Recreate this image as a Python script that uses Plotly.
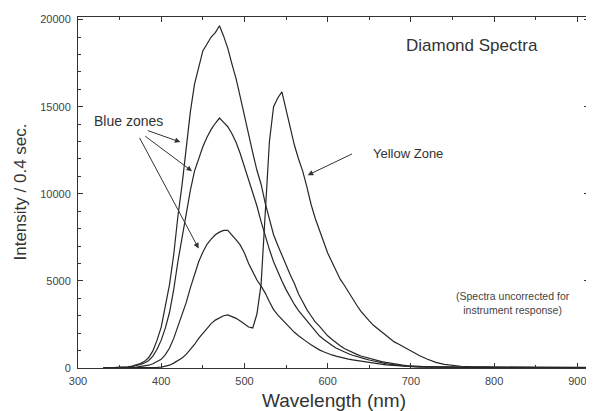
import plotly.graph_objects as go

# Wavelength sample grid (nm)
wavelength = list(range(330, 705, 5)) + list(range(710, 915, 10))

# Blue zone 1 (strongest)
blue_zone_1 = [0, 10, 15, 25, 30, 50, 70, 110, 160, 250, 380, 600, 980, 1600, 2350,
               3500, 4800, 6500, 8700, 10500, 12700, 14700, 16300, 17300, 18200, 18600,
               19000, 19250, 19650, 19050, 18350, 17450, 16600, 15550, 14450, 13250,
               12350, 11350, 10550, 9450, 8550, 7650, 7050, 6450, 5950, 5350, 4850, 4250,
               3800, 3350, 3000, 2650, 2400, 2100, 1850, 1650, 1450, 1280, 1120, 1000,
               880, 780, 690, 620, 550, 490, 430, 370, 320, 270, 230, 190, 160, 140, 120,
               90, 70, 60, 50, 45, 40, 40, 35, 40, 35, 30, 35, 30, 30, 35, 30, 30, 25, 30, 25, 30]

# Blue zone 2 (medium)
blue_zone_2 = [0, 5, 10, 15, 25, 35, 55, 85, 130, 200, 290, 430, 680, 1080, 1600,
               2300, 3200, 4500, 6100, 7500, 8700, 10200, 11300, 12050, 12700, 13250,
               13700, 14050, 14350, 14100, 13850, 13450, 12950, 12300, 11550, 10800,
               10100, 9300, 8400, 7550, 6800, 6100, 5500, 5000, 4500, 4050, 3650, 3300,
               3000, 2700, 2400, 2100, 1850, 1650, 1450, 1300, 1150, 1030, 920, 820,
               730, 650, 580, 520, 460, 400, 350, 300, 250, 210, 175, 145, 120, 100, 85,
               70, 55, 45, 40, 40, 35, 35, 30, 35, 30, 30, 30, 25, 30, 30, 25, 30, 25, 25, 30, 25]

# Blue zone 3 (weakest)
blue_zone_3 = [0, 0, 5, 5, 10, 10, 20, 30, 50, 75, 110, 160, 240, 350, 500,
               770, 1150, 1700, 2350, 3000, 3750, 4600, 5400, 6100, 6650, 7100,
               7400, 7650, 7800, 7900, 7900, 7650, 7350, 7050, 6600, 6000,
               5500, 5050, 4700, 4300, 3800, 3350, 3050, 2800, 2500, 2250, 2050, 1850,
               1700, 1500, 1330, 1170, 1040, 930, 830, 750, 680, 610, 560, 510,
               470, 430, 400, 360, 320, 280, 245, 215, 185, 160, 140, 120, 100, 85, 70,
               55, 45, 40, 35, 35, 30, 30, 30, 25, 30, 25, 25, 30, 25, 25, 25, 20, 25, 25, 20, 25]

# Yellow zone
yellow_zone = [0, 0, 0, 5, 5, 5, 10, 10, 10, 15, 15, 20, 25, 35, 55,
               90, 160, 280, 420, 580, 780, 1050, 1350, 1700, 2000, 2300,
               2550, 2750, 2900, 3000, 3050, 2950, 2850, 2700, 2550, 2350,
               2300, 3100, 4800, 9000, 13000, 15000, 15500, 15850, 14800, 13700, 12800, 12000,
               11300, 10400, 9400, 8600, 7900, 7300, 6600, 6100, 5600, 5100, 4750, 4350,
               4000, 3600, 3250, 2950, 2700, 2450, 2250, 2050, 1850, 1650, 1500, 1380, 1250, 1100, 980,
               720, 500, 320, 210, 140, 100, 80, 60, 55, 50, 45, 45, 40, 45, 40, 40, 35, 40, 35, 40, 35]

series = [blue_zone_1, blue_zone_2, blue_zone_3, yellow_zone]

x_ticks = [300, 400, 500, 600, 700, 800, 900]
y_ticks = [0, 5000, 10000, 15000, 20000]

FONT = "Liberation Sans, Arial, Helvetica, sans-serif"
INK = "#262626"

fig = go.Figure()
for s in series:
    fig.add_trace(go.Scatter(x=wavelength, y=s, mode="lines",
                             line=dict(color=INK, width=1.2), showlegend=False,
                             hoverinfo="skip"))

axis_common = dict(showgrid=False, zeroline=False, showline=True, linecolor="#333",
                   linewidth=1, mirror="allticks", ticks="inside", ticklen=5,
                   tickcolor="#333", automargin=False,
                   tickfont=dict(family=FONT, size=11, color="#444"))

fig.update_xaxes(range=[300, 914], tickvals=x_ticks, ticktext=[str(v) for v in x_ticks],
                 minor=dict(dtick=50, tick0=300, ticks="inside", ticklen=3, tickcolor="#333"),
                 ticklabelstandoff=3,
                 **axis_common)
fig.update_yaxes(range=[0, 20150], tickvals=y_ticks, ticktext=[str(v) for v in y_ticks],
                 minor=dict(dtick=1000, tick0=0, ticks="inside", ticklen=3, tickcolor="#333"),
                 ticklabelstandoff=4,
                 **axis_common)

# Axis titles
fig.add_annotation(x=0.5, y=0, xref="paper", yref="paper", yshift=-32, text="Wavelength (nm)",
                   showarrow=False, yanchor="middle",
                   font=dict(family=FONT, size=19, color="#333"))
fig.add_annotation(x=0, y=0.5, xref="paper", yref="paper", xshift=-58, text="Intensity / 0.4 sec.",
                   showarrow=False, textangle=-90, xanchor="center",
                   font=dict(family=FONT, size=17, color="#333"))

def arrow(text_x, text_y, head_x, head_y):
    fig.add_annotation(x=head_x, y=head_y, ax=text_x, ay=text_y, xref="x", yref="y",
                       axref="x", ayref="y", text="", showarrow=True, arrowhead=2,
                       arrowsize=1.1, arrowwidth=1, arrowcolor="#333")

# Blue zones label and arrows
fig.add_annotation(x=361, y=14200, xref="x", yref="y", text="Blue zones", showarrow=False,
                   font=dict(family=FONT, size=14, color="#333"))
arrow(382, 13660, 423, 12970)
arrow(379, 13370, 437, 11300)
arrow(373, 13300, 445, 6860)

# Yellow zone label and arrow
fig.add_annotation(x=696, y=12330, xref="x", yref="y", text="Yellow Zone", showarrow=False,
                   font=dict(family=FONT, size=13, color="#333"))
arrow(631, 12330, 576, 11070)

fig.add_annotation(x=774, y=18500, xref="x", yref="y", text="Diamond Spectra", showarrow=False,
                   font=dict(family=FONT, size=17, color="#333"))

fig.add_annotation(x=823, y=3730, xref="x", yref="y",
                   text="(Spectra uncorrected for<br>instrument response)", showarrow=False,
                   align="center", font=dict(family=FONT, size=10.5, color="#444"))

# The page body adds an 8 px offset; size the figure so the plot area lands where the reference's does.
fig.update_layout(width=586, height=403, margin=dict(l=70, r=5, t=9, b=43),
                  paper_bgcolor="white", plot_bgcolor="white",
                  font=dict(family=FONT, color="#333"))

fig.write_html("out.html")
